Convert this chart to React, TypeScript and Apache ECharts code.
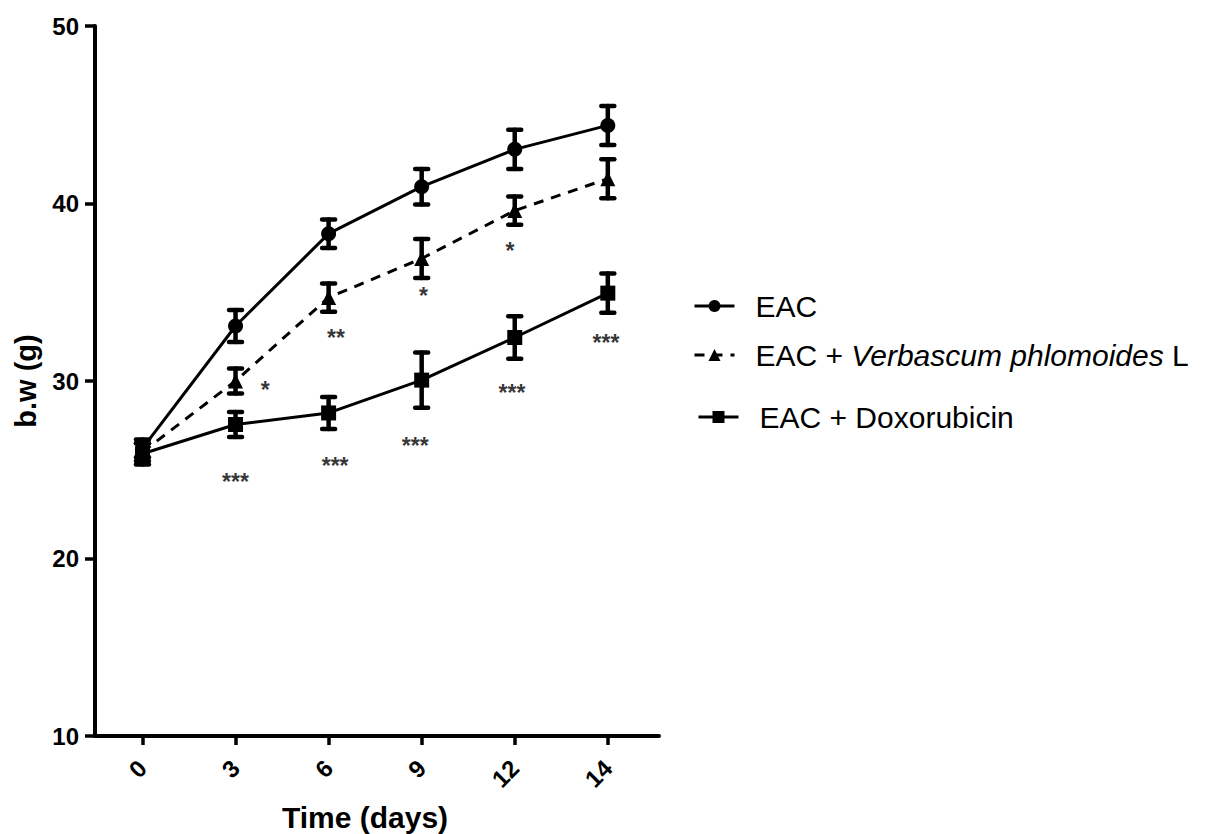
import React, { useEffect, useRef } from "react";
import * as echarts from "echarts";

const days = ["0", "3", "6", "9", "12", "14"];
const eacMean = [26.2, 33.1, 38.3, 40.95, 43.05, 44.4];
const eacErr = [0.5, 0.9, 0.8, 1.0, 1.1, 1.1];
const verbMean = [26.0, 30.0, 34.7, 36.9, 39.6, 41.4];
const verbErr = [0.5, 0.7, 0.8, 1.1, 0.8, 1.1];
const doxMean = [25.9, 27.55, 28.2, 30.05, 32.45, 34.95];
const doxErr = [0.6, 0.7, 0.9, 1.55, 1.2, 1.1];
// significance marks: [x position (category index), y value, text]
const sigMarks: [number, number, string][] = [
  [1.0, 24.6, "***"],
  [1.32, 29.8, "*"],
  [2.08, 32.7, "**"],
  [2.07, 25.5, "***"],
  [3.02, 35.05, "*"],
  [2.93, 26.6, "***"],
  [3.95, 37.6, "*"],
  [3.97, 29.6, "***"],
  [4.98, 32.4, "***"],
];

const NAME_EAC = "EAC";
const NAME_VERB = "EAC + Verbascum phlomoides L";
const NAME_DOX = "EAC + Doxorubicin";
const FONT = "'Liberation Sans', Arial, sans-serif";

function lineData(mean: number[]) {
  return mean.map((v, i) => [i, v]);
}
function errData(mean: number[], err: number[]) {
  return mean.map((v, i) => [i, v - err[i], v + err[i]]);
}

function errorSeries(mean: number[], err: number[]) {
  return {
    type: "custom",
    data: errData(mean, err),
    z: 3,
    silent: true,
    renderItem: (params: any, api: any) => {
      const x = api.value(0);
      const lo = api.coord([x, api.value(1)]);
      const hi = api.coord([x, api.value(2)]);
      const hw = 6.5;
      const st = { stroke: "#000", lineWidth: 4.5, lineCap: "round" };
      return {
        type: "group",
        children: [
          { type: "line", shape: { x1: hi[0], y1: hi[1], x2: lo[0], y2: lo[1] }, style: st },
          { type: "line", shape: { x1: hi[0] - hw, y1: hi[1], x2: hi[0] + hw, y2: hi[1] }, style: st },
          { type: "line", shape: { x1: lo[0] - hw, y1: lo[1], x2: lo[0] + hw, y2: lo[1] }, style: st },
        ],
      };
    },
  };
}

export default function App() {
  const ref = useRef<HTMLDivElement>(null);
  useEffect(() => {
    if (!ref.current) return;
    const chart = echarts.init(ref.current, null, { renderer: "svg" });
    const legendBase = {
      orient: "horizontal",
      padding: 0,
      itemWidth: 40,
      itemHeight: 15,
      lineStyle: { width: 3 },
      textStyle: {
        fontFamily: FONT,
        fontSize: 30,
        color: "#000",
        padding: [0, 0, 0, 16],
        rich: {
          i: { fontFamily: FONT, fontSize: 30, fontStyle: "italic", color: "#000" },
        },
      },
      formatter: (name: string) =>
        name === NAME_VERB ? "EAC + {i|Verbascum phlomoides} L" : name,
      selectedMode: false,
    };
    chart.setOption({
      animation: false,
      backgroundColor: "#fff",
      grid: { left: 95, top: 26, right: 1210 - 659, bottom: 98, outerBoundsMode: "none" },
      legend: [
        { ...legendBase, left: 693, top: 291, data: [NAME_EAC] },
        { ...legendBase, left: 693, top: 340, data: [NAME_VERB] },
        { ...legendBase, left: 697, top: 402, data: [NAME_DOX] },
      ],
      xAxis: {
        type: "value",
        min: -0.51,
        max: 5.55,
        splitLine: { show: false },
        axisLine: { onZero: false, lineStyle: { color: "#000", width: 4 } },
        axisTick: { customValues: [0, 1, 2, 3, 4, 5], length: 9, lineStyle: { color: "#000", width: 3.5 } },
        axisLabel: {
          customValues: [0, 1, 2, 3, 4, 5],
          formatter: (v: number) => days[Math.round(v)],
          rotate: 45,
          margin: 28,
          fontFamily: FONT,
          fontWeight: "bold",
          fontSize: 24,
          color: "#000",
        },
        name: "Time (days)",
        nameLocation: "middle",
        nameGap: 66,
        nameTextStyle: {
          fontFamily: FONT,
          fontWeight: "bold",
          fontSize: 30,
          color: "#000",
          padding: [0, 24, 0, 0],
        },
      },
      yAxis: {
        type: "value",
        min: 10,
        max: 50,
        interval: 10,
        splitLine: { show: false },
        axisLine: { show: true, onZero: false, lineStyle: { color: "#000", width: 4 } },
        axisTick: { show: true, length: 10, lineStyle: { color: "#000", width: 3.5 } },
        axisLabel: {
          margin: 16,
          fontFamily: FONT,
          fontWeight: "bold",
          fontSize: 24,
          color: "#000",
        },
        name: "b.w (g)",
        nameLocation: "middle",
        nameGap: 55,
        nameTextStyle: {
          fontFamily: FONT,
          fontWeight: "bold",
          fontSize: 29,
          color: "#000",
        },
      },
      series: [
        {
          name: NAME_EAC,
          type: "line",
          data: lineData(eacMean),
          symbol: "circle",
          symbolSize: 15,
          itemStyle: { color: "#000" },
          lineStyle: { color: "#000", width: 3 },
          z: 4,
        },
        {
          name: NAME_VERB,
          type: "line",
          data: lineData(verbMean),
          symbol: "triangle",
          symbolSize: 15,
          itemStyle: { color: "#000" },
          lineStyle: { color: "#000", width: 3, type: [10, 8] },
          z: 4,
        },
        {
          name: NAME_DOX,
          type: "line",
          data: lineData(doxMean),
          symbol: "rect",
          symbolSize: 15,
          itemStyle: { color: "#000" },
          lineStyle: { color: "#000", width: 3 },
          z: 4,
        },
        errorSeries(eacMean, eacErr),
        errorSeries(verbMean, verbErr),
        errorSeries(doxMean, doxErr),
        {
          type: "scatter",
          data: sigMarks.map((m) => [m[0], m[1], m[2]]),
          symbolSize: 0,
          silent: true,
          label: {
            show: true,
            position: "inside",
            offset: [0, 5],
            formatter: (p: any) => p.value[2],
            fontFamily: FONT,
            fontWeight: "bold",
            fontSize: 23,
            color: "#000",
          },
        },
      ],
    });
    return () => chart.dispose();
  }, []);
  return (
    <div
      ref={ref}
      style={{ position: "fixed", left: 0, top: 0, width: 1210, height: 834, background: "#fff" }}
    />
  );
}
